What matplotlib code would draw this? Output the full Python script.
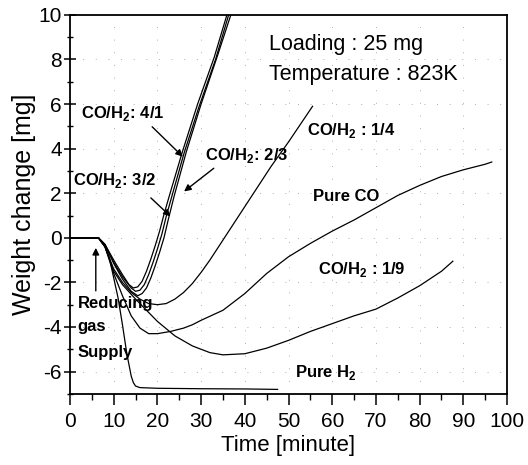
import numpy as np
import matplotlib
matplotlib.use("Agg")
import matplotlib.pyplot as plt

plt.rcParams['font.family'] = ['Liberation Sans', 'DejaVu Sans']
plt.rcParams['mathtext.fontset'] = 'custom'
plt.rcParams['mathtext.rm'] = 'Liberation Sans'
plt.rcParams['mathtext.bf'] = 'Liberation Sans:bold'
plt.rcParams['axes.unicode_minus'] = False

# --- data (time [min], weight change [mg]) ---
t_41 = [0, 6.5, 8, 10, 12, 13.5, 14.5, 15.5, 16.5, 17.5, 18.5, 19.5, 20.5, 21.5, 22.9, 25.7, 29.2, 33.0, 35.9, 37.5]
w_41 = [0, 0, -0.3, -1.0, -1.65, -2.1, -2.25, -2.2, -1.95, -1.5, -0.95, -0.35, 0.3, 1.05, 2.0, 3.85, 6.0, 8.1, 10, 11]

t_32 = [0, 6.5, 8, 10, 12, 14, 15, 16, 17, 18, 19, 20, 21, 22, 23.4, 26.1, 29.5, 33.3, 36.3, 38]
w_32 = [0, 0, -0.3, -1.1, -1.75, -2.25, -2.4, -2.35, -2.1, -1.65, -1.1, -0.5, 0.15, 0.95, 1.93, 3.8, 5.87, 8.0, 10, 11]

t_23 = [0, 6.5, 8, 10, 12, 14, 15.5, 16.5, 17.5, 18.5, 19.5, 20.5, 21.5, 22.4, 23.8, 26.6, 30.0, 33.8, 36.8, 38.5]
w_23 = [0, 0, -0.3, -1.15, -1.85, -2.4, -2.6, -2.5, -2.25, -1.8, -1.25, -0.65, 0.0, 0.75, 1.85, 3.85, 6.0, 8.2, 10, 11]

t_14 = [0, 6.5, 8, 10, 12, 14, 16, 18, 20, 22, 24, 26, 28, 30, 32, 34, 36, 38, 42, 46, 50, 55.5]
w_14 = [0, 0, -0.4, -1.4, -2.0, -2.45, -2.75, -2.95, -3.0, -2.95, -2.75, -2.45, -2.05, -1.55, -1.0, -0.4, 0.2, 0.8, 2.0, 3.2, 4.3, 5.9]

t_co = [0, 6.5, 8, 10, 12, 14, 16, 18, 20, 23, 26, 28, 30, 35, 40, 45, 50, 55, 60, 65, 70, 75, 80, 85, 90, 95, 96.5]
w_co = [0, 0, -0.4, -1.6, -2.6, -3.5, -4.05, -4.3, -4.3, -4.2, -4.05, -3.9, -3.7, -3.25, -2.5, -1.6, -0.85, -0.25, 0.3, 0.8, 1.35, 1.9, 2.35, 2.75, 3.05, 3.3, 3.4]

t_19 = [0, 6.5, 8, 10, 12, 15, 18, 20, 24, 28, 32, 35, 40, 45, 50, 55, 60, 65, 70, 75, 80, 85, 87.6]
w_19 = [0, 0, -0.4, -1.5, -2.1, -2.75, -3.35, -3.75, -4.4, -4.85, -5.15, -5.25, -5.2, -4.95, -4.6, -4.2, -3.85, -3.5, -3.2, -2.7, -2.15, -1.5, -1.05]

t_h2 = [0, 6.5, 8, 9, 10, 11, 12, 13, 14, 14.5, 15, 16, 20, 30, 40, 47.5]
w_h2 = [0, 0, -0.4, -0.9, -1.8, -2.7, -3.9, -5.2, -6.2, -6.5, -6.65, -6.72, -6.75, -6.77, -6.78, -6.8]

series = [(t_41, w_41), (t_32, w_32), (t_23, w_23), (t_14, w_14),
          (t_co, w_co), (t_19, w_19), (t_h2, w_h2)]

fig = plt.figure(figsize=(5.28, 4.65), dpi=100)
ax = fig.add_axes([0.1326, 0.153, 0.8277, 0.815])

for t, w in series:
    ax.plot(t, w, color='black', lw=0.9)

ax.set_xlim(0, 100)
ax.set_ylim(-7, 10)
ax.set_xticks(np.arange(0, 101, 10))
ax.set_xticks(np.arange(5, 100, 10), minor=True)
ax.set_yticks(np.arange(-6, 11, 2))
ax.set_yticks(np.arange(-7, 10, 2), minor=True)
ax.tick_params(axis='x', which='major', direction='out', length=8, width=1.1, labelsize=15, pad=5)
ax.tick_params(axis='x', which='minor', direction='out', length=4, width=1.0)
ax.tick_params(axis='y', which='major', direction='inout', length=8, width=1.1, labelsize=15, pad=2)
ax.tick_params(axis='y', which='minor', direction='inout', length=4, width=1.0)
for s in ax.spines.values():
    s.set_linewidth(1.3)
ax.grid(True, which='major', color='#b0b0b0', lw=0.7, linestyle=(0, (1, 12)))

ax.set_xlabel('Time [minute]', fontsize=16, labelpad=3)
ax.set_ylabel('Weight change [mg]', fontsize=18, labelpad=2)

bold = dict(fontsize=12, fontweight='bold', va='baseline', ha='left')
ax.text(2.5, 5.36, r'CO/H$_\mathbf{2}$: 4/1', **bold)
ax.text(0.75, 2.38, r'CO/H$_\mathbf{2}$: 3/2', **bold)
ax.text(31, 3.5, r'CO/H$_\mathbf{2}$: 2/3', **bold)
ax.text(54.2, 4.61, r'CO/H$_\mathbf{2}$ : 1/4', **bold)
ax.text(55.7, 1.63, 'Pure CO', **bold)
ax.text(56.8, -1.64, r'CO/H$_\mathbf{2}$ : 1/9', **bold)
ax.text(51.4, -6.24, r'Pure H$_\mathbf{2}$', **bold)
ax.text(1.7, -3.13, 'Reducing', **bold)
ax.text(1.7, -4.17, 'gas', **bold)
ax.text(1.7, -5.36, 'Supply', **bold)

ax.text(45.5, 8.41, 'Loading : 25 mg', fontsize=15.5, va='baseline')
ax.text(45.5, 7.07, 'Temperature : 823K', fontsize=15.5, va='baseline')

arrow = dict(arrowstyle='-|>', color='black', lw=1.0, mutation_scale=10, shrinkA=0, shrinkB=0)
ax.annotate('', xy=(25.8, 3.64), xytext=(18.8, 4.98), arrowprops=arrow)
ax.annotate('', xy=(26.1, 2.08), xytext=(32.9, 3.12), arrowprops=arrow)
ax.annotate('', xy=(23.0, 0.96), xytext=(18.5, 1.79), arrowprops=arrow)
ax.annotate('', xy=(5.9, -0.45), xytext=(5.9, -2.38), arrowprops=arrow)

fig.savefig('out.png', dpi=100)
